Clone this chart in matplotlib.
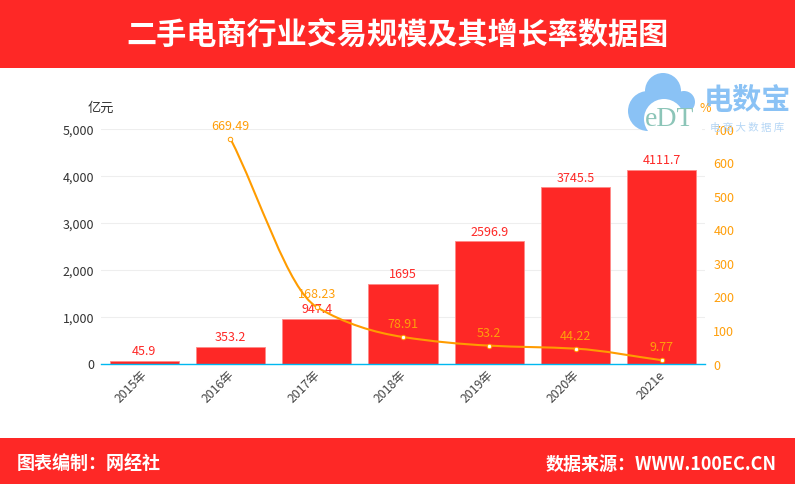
import matplotlib
matplotlib.use("Agg")
import matplotlib.pyplot as plt
import numpy as np
from matplotlib.patches import Rectangle, Circle, PathPatch
from matplotlib.path import Path
from matplotlib.transforms import ScaledTranslation

plt.rcParams['font.family'] = ['Noto Sans CJK SC', 'DejaVu Sans']

years = ["2015年", "2016年", "2017年", "2018年", "2019年", "2020年", "2021e"]
scale = [45.9, 353.2, 947.4, 1695, 2596.9, 3745.5, 4111.7]
scale_labels = ["45.9", "353.2", "947.4", "1695", "2596.9", "3745.5", "4111.7"]
rate_years = [1, 2, 3, 4, 5, 6]
rate = [669.49, 168.23, 78.91, 53.2, 44.22, 9.77]
rate_labels = ["669.49", "168.23", "78.91", "53.2", "44.22", "9.77"]
left_ticks = [0, 1000, 2000, 3000, 4000, 5000]
right_ticks = [0, 100, 200, 300, 400, 500, 600, 700]

RED = "#fe2826"
ORANGE = "#ff9f0a"
W, H = 795, 485

fig = plt.figure(figsize=(W / 100, H / 100), dpi=100)


def fx(px):
    return px / W


def fy(py):
    return 1 - py / H


# header and footer bands
fig.patches.append(Rectangle((0, fy(69)), 1, 69 / H, transform=fig.transFigure, color=RED, lw=0))
fig.patches.append(Rectangle((0, 0), 1, 46 / H, transform=fig.transFigure, color=RED, lw=0))
fig.text(fx(397.5), fy(35), "二手电商行业交易规模及其增长率数据图", color="white", fontsize=21.7,
         fontweight="bold", ha="center", va="center")
fig.text(fx(17), fy(464), "图表编制：网经社", color="white", fontsize=13, fontweight="bold",
         ha="left", va="center")
fig.text(fx(777), fy(464), "数据来源：WWW.100EC.CN", color="white", fontsize=13, fontweight="bold",
         ha="right", va="center")

ax = fig.add_axes([fx(101), fy(364.5), 604 / W, 235 / H])
ax2 = ax.twinx()
ax.set_zorder(1)
ax2.set_zorder(2)
ax2.patch.set_visible(False)

x = np.arange(len(years))
ax.bar(x, scale, width=0.8, color=RED, edgecolor="#ff8a88", linewidth=0.6, zorder=3)
ax.set_xlim(-0.5, 6.5)
ax.set_ylim(0, 5000)
ax.set_yticks(left_ticks)
ax.set_yticklabels([f"{v:,}" for v in left_ticks], fontsize=9, color="#333333")
ax.set_xticks(x)
ax.set_xticklabels(years, rotation=45, ha="right", rotation_mode="anchor", fontsize=8.8, color="#444444")
ax.tick_params(axis="y", length=0, pad=5)
ax.tick_params(axis="x", length=0, pad=3)
shift = ScaledTranslation(-3 / 100, 0, fig.dpi_scale_trans)
for t in ax.get_xticklabels():
    t.set_transform(t.get_transform() + shift)
ax.grid(axis="y", color="#eeeeee", linewidth=0.8, zorder=0)
ax.set_axisbelow(True)
for s in ["top", "left", "right"]:
    ax.spines[s].set_visible(False)
ax.spines["bottom"].set_color("#00b8f0")
ax.spines["bottom"].set_linewidth(1)
ax.spines["bottom"].set_zorder(5)

for xi, v, lab in zip(x, scale, scale_labels):
    ax.annotate(lab, (xi, v), xytext=(0, 2.8), textcoords="offset points", ha="center", va="bottom",
                fontsize=9, color=RED, zorder=6)

# smooth line through the rate values, monotone cubic segments
rx = np.array(rate_years, dtype=float)
ry = np.array(rate, dtype=float)
slopes = np.diff(ry) / np.diff(rx)
tang = np.zeros(len(rx))
tang[0] = slopes[0]
tang[-1] = slopes[-1]
for i in range(1, len(rx) - 1):
    tang[i] = 2 * slopes[i - 1] * slopes[i] / (slopes[i - 1] + slopes[i])
verts = [(rx[0], ry[0])]
codes = [Path.MOVETO]
for i in range(len(rx) - 1):
    verts += [(rx[i] + 1 / 3, ry[i] + tang[i] / 3), (rx[i + 1] - 1 / 3, ry[i + 1] - tang[i + 1] / 3),
              (rx[i + 1], ry[i + 1])]
    codes += [Path.CURVE4] * 3
ax2.add_patch(PathPatch(Path(verts, codes), fill=False, edgecolor="#ff9c00", linewidth=1.5, zorder=4))
ax2.plot(rx, ry, ls="none", marker="o", ms=3.2, mfc="white", mec="#ff9c00", mew=0.7, zorder=5)
ax2.set_ylim(0, 700)
ax2.set_yticks(right_ticks)
ax2.set_yticklabels([str(v) for v in right_ticks], fontsize=9, color=ORANGE)
ax2.tick_params(axis="y", length=0, pad=6)
for s in ax2.spines.values():
    s.set_visible(False)
for xi, v, lab in zip(rx, ry, rate_labels):
    ax2.annotate(lab, (xi, v), xytext=(0, 5), textcoords="offset points", ha="center", va="bottom",
                 fontsize=9, color=ORANGE, zorder=6)

fig.text(fx(101), fy(108), "亿元", fontsize=9.5, color="#333333", ha="center", va="center")

# watermark logo
blue = "#8ac2f5"
for cx, cy, r in [(648, 112, 20), (663, 92, 18), (684, 103, 11)]:
    fig.patches.append(Circle((cx, H - cy), r, transform=None, color=blue, lw=0, zorder=8))
fig.patches.append(Circle((664, H - 120), 20, transform=None, color="white", lw=0, zorder=8.5))
fig.patches.append(Rectangle((fx(662), fy(133)), 40 / W, 24 / H, transform=fig.transFigure, color="white", lw=0, zorder=8.5))
fig.text(fx(670), fy(119), "eDT", fontsize=20, fontfamily="Liberation Serif", color="#8cc5b8", ha="center",
         va="center", zorder=9)
fig.text(fx(747), fy(100), "电数宝", fontsize=21, fontweight="bold", color=blue, ha="center", va="center", zorder=9)
fig.text(fx(747), fy(128), "电 商 大 数 据 库", fontsize=7.5, color="#b5d6f5", ha="center", va="center", zorder=9)
fig.text(fx(705), fy(108), "%", fontsize=9, color=ORANGE, ha="center", va="center", zorder=10)

fig.savefig("out.png", dpi=100)
